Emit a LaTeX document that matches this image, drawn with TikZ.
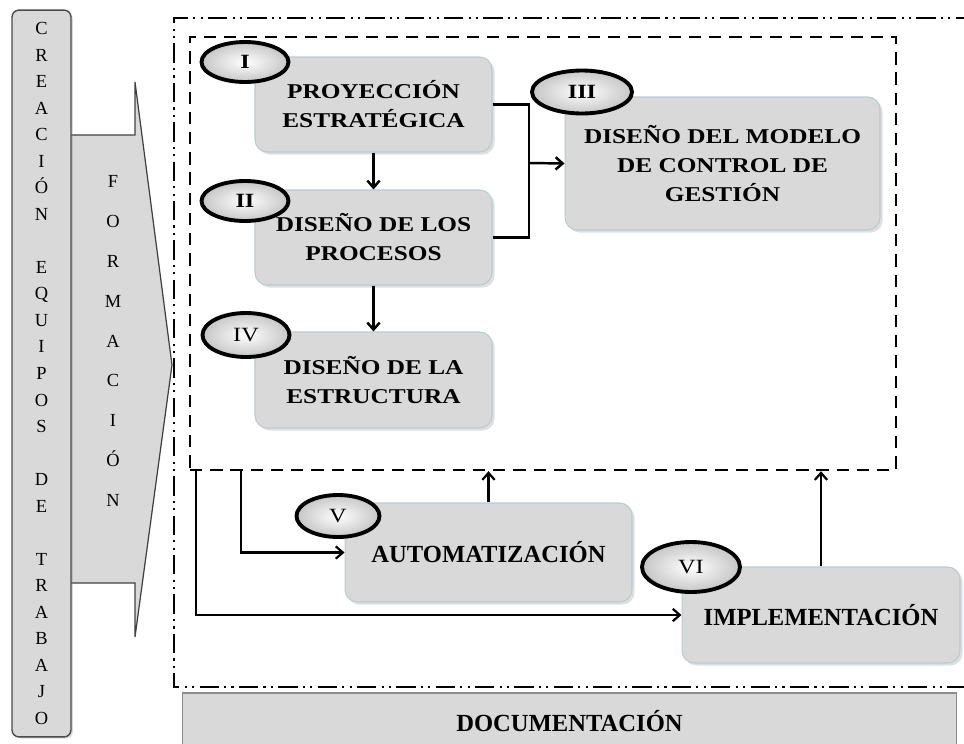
\documentclass[tikz,border=0pt]{standalone}
\usepackage{fontspec}
\setmainfont{Liberation Serif}
\newfontfamily\widefont[FakeStretch=1.2]{Liberation Serif}
\usepackage{tikz}
\usetikzlibrary{shapes,arrows,arrows.meta,positioning,shadows}
\definecolor{boxgray}{HTML}{D9D9D9}
\definecolor{boxline}{HTML}{B4CDD3}
\tikzset{
  etapa/.style={rectangle, rounded corners=7pt, fill=boxgray, draw=boxline, line width=0.6pt,
    align=center, inner sep=2pt, drop shadow={shadow xshift=1.5pt, shadow yshift=-1.5pt, opacity=0.25}},
  fasetxt/.style={font=\widefont\bfseries\fontsize{12}{16.5}\selectfont},
  bajotxt/.style={font=\bfseries\fontsize{14}{16}\selectfont},
  numero/.style={ellipse, draw=black, line width=2.2pt, inner color=white, outer color=gray!45,
    minimum width=1.74cm, minimum height=0.8cm, inner sep=0pt, font=\widefont\fontsize{11.5}{13}\selectfont},
  flecha/.style={->, >={Straight Barb[length=4pt,width=7pt]}, line width=1.25pt},
}

\begin{document}
\begin{tikzpicture}[x=0.02cm,y=-0.02cm]
\useasboundingbox (0,0) rectangle (964,744);
\clip (0,0) rectangle (964,744);

% formacion y equipos
\draw[fill=boxgray, draw=black!75, line width=0.7pt] (60,135) -- (135,135) -- (135,82) -- (172,365) -- (135,637) -- (135,583) -- (60,583);
\node[align=center, font=\fontsize{10.5}{22.7}\selectfont] (formacion) at (113,341) {F\\O\\R\\M\\A\\C\\I\\Ó\\N};
\node[rectangle, rounded corners=4pt, fill=boxgray, draw=black!70, line width=0.8pt, minimum width=1.18cm, minimum height=14.54cm,
  align=center, inner sep=0pt, font=\fontsize{10.5}{15.1}\selectfont, drop shadow={shadow xshift=1pt, shadow yshift=-1pt, opacity=0.3}]
  (equipos) at (41.5,373.5) {C\\R\\E\\A\\C\\I\\Ó\\N\\[15.1pt]E\\Q\\U\\I\\P\\O\\S\\[15.1pt]D\\E\\[15.1pt]T\\R\\A\\B\\A\\J\\O};

% recuadros
\draw[line width=1.1pt, dash pattern=on 11pt off 3pt on 1.2pt off 3pt on 1.2pt off 3pt] (975,18) -| (174,687) -- (975,687);
\node[draw, dash pattern=on 7pt off 4.5pt, line width=1.4pt, minimum width=14.12cm, minimum height=8.66cm, inner sep=0pt] (bloque) at (543,253.5) {};

% etapas
\node[etapa, fasetxt, minimum width=4.74cm, minimum height=1.9cm] (proy) at (373.5,104.5) {PROYECCIÓN\\ESTRATÉGICA};
\node[etapa, fasetxt, minimum width=4.74cm, minimum height=1.9cm] (proc) at (373.5,237.5) {DISEÑO DE LOS\\PROCESOS};
\node[etapa, fasetxt, minimum width=6.3cm, minimum height=2.66cm] (modelo) at (722.5,163.5) {DISEÑO DEL MODELO\\DE CONTROL DE\\GESTIÓN};
\node[etapa, fasetxt, minimum width=4.74cm, minimum height=1.92cm] (estr) at (373.5,380) {DISEÑO DE LA\\ESTRUCTURA};
\node[etapa, bajotxt, minimum width=5.74cm, minimum height=1.98cm] (auto) at (488.5,552.5) {AUTOMATIZACIÓN};
\node[etapa, bajotxt, minimum width=5.56cm, minimum height=1.92cm] (impl) at (821,615) {IMPLEMENTACIÓN};
\node[rectangle, fill=boxgray, draw=black!45, line width=0.6pt, bajotxt, minimum width=15.5cm, minimum height=1.14cm] (docu) at (569.5,721.5) {DOCUMENTACIÓN};

\node[numero, font=\widefont\bfseries\fontsize{11.5}{13}\selectfont] (n1) at (245,62) {I};
\node[numero, font=\widefont\bfseries\fontsize{11.5}{13}\selectfont] (n2) at (245,201) {II};
\node[numero, font=\widefont\bfseries\fontsize{11.5}{13}\selectfont, minimum width=2cm, minimum height=0.86cm] (n3) at (582,92) {III};
\node[numero, minimum height=0.88cm] (n4) at (246,335) {IV};
\node[numero, minimum width=1.66cm, minimum height=0.84cm] (n5) at (338,516) {V};
\node[numero, minimum width=1.96cm, minimum height=1cm] (n6) at (691,567) {VI};

% conexiones
\coordinate (junta) at (529,163);
\draw[line width=1.4pt] (proy.east) -| (junta);
\draw[line width=1.4pt] (proc.east) -| (junta);
\draw[flecha, line width=1.4pt] (junta) -- (modelo.west);
\draw[flecha, line width=1.4pt] (proy) -- (proc);
\draw[flecha, line width=1.4pt] (proc) -- (estr);
\draw[flecha] ([xshift=1.04cm]bloque.south west) |- (auto.west);
\draw[flecha] ([xshift=0.14cm]bloque.south west) |- (impl.west);
\draw[flecha] (auto.north) -- (auto.north |- bloque.south);
\draw[flecha] (impl.north) -- (impl.north |- bloque.south);

\end{tikzpicture}
\end{document}
